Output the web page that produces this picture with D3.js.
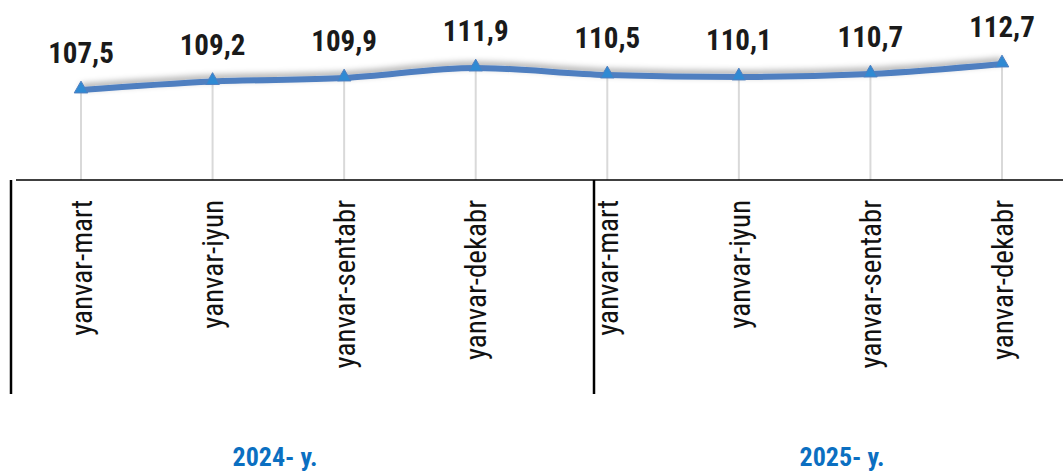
<!DOCTYPE html>
<html>
<head>
<meta charset="utf-8">
<script src="https://cdn.jsdelivr.net/npm/d3@7"></script>
<style>
body{margin:0;background:#fff;}
text{font-family:"Liberation Sans Narrow","Roboto Condensed","Roboto",sans-serif;}
</style>
</head>
<body>
<div id="chart"></div>
<script>
// data
const periods = ["yanvar-mart","yanvar-iyun","yanvar-sentabr","yanvar-dekabr","yanvar-mart","yanvar-iyun","yanvar-sentabr","yanvar-dekabr"];
const values = [107.5,109.2,109.9,111.9,110.5,110.1,110.7,112.7];
const years = ["2024- y.","2025- y."];

const w = 1063, h = 472;
const svg = d3.select("#chart").append("svg").attr("width",w).attr("height",h);

const defs = svg.append("defs");
const f = defs.append("filter").attr("id","sh").attr("x","-5%").attr("y","-100%").attr("width","110%").attr("height","400%");
f.append("feDropShadow").attr("dx",0).attr("dy",-3).attr("stdDeviation",3).attr("flood-color","#000").attr("flood-opacity",0.35);

const x = d3.scalePoint().domain(d3.range(values.length)).range([81,1002]);
const y = d3.scaleLinear().domain([107.5,112.7]).range([90,64]);
const axisY = 180;

// grid lines
svg.selectAll(".grid").data(values).enter().append("line")
  .attr("x1",(d,i)=>x(i)).attr("x2",(d,i)=>x(i))
  .attr("y1",d=>y(d)).attr("y2",axisY)
  .attr("stroke","#d9d9d9").attr("stroke-width",2);

// axis
const ax = svg.append("g").attr("transform","translate(0,"+axisY+")")
  .call(d3.axisBottom(x).tickSize(0).tickFormat(i=>periods[i]));
ax.select(".domain").remove();
ax.selectAll("text")
  .attr("transform","rotate(-90)")
  .attr("x",-20).attr("y",0).attr("dy","0.35em")
  .style("text-anchor","end")
  .style("font-size","29px").attr("fill","#111");
svg.append("line").attr("x1",16).attr("x2",w).attr("y1",axisY).attr("y2",axisY)
  .attr("stroke","#000").attr("stroke-width",1.5);

// group separators
[11,594].forEach(px=>{
  svg.append("line").attr("x1",px).attr("x2",px).attr("y1",axisY).attr("y2",394)
    .attr("stroke","#000").attr("stroke-width",2.5);
});

// line
const line = d3.line().x((d,i)=>x(i)).y(d=>y(d)).curve(d3.curveMonotoneX);
svg.append("path").datum(values).attr("d",line)
  .attr("fill","none").attr("stroke","#4F7FC0").attr("stroke-width",6)
  .attr("stroke-linejoin","round").attr("filter","url(#sh)");

// markers
svg.selectAll(".mk").data(values).enter().append("path")
  .attr("d",d3.symbol().type(d3.symbolTriangle).size(80))
  .attr("transform",(d,i)=>"translate("+x(i)+","+(y(d)-1)+")")
  .attr("fill","#2F8AD3").attr("stroke","#4F7FC0").attr("stroke-width",1);

// labels
svg.selectAll(".lbl").data(values).enter().append("text")
  .attr("x",(d,i)=>x(i)).attr("y",d=>y(d)-27)
  .attr("text-anchor","middle").style("font-size","29px").style("font-weight","bold")
  .attr("fill","#1a1a1a")
  .text(d=>d.toFixed(1).replace(".",","));

// year labels
svg.selectAll(".yr").data(years).enter().append("text")
  .attr("x",(d,i)=>[275,842][i]).attr("y",466)
  .attr("text-anchor","middle").style("font-size","26px").style("font-weight","bold")
  .attr("fill","#0B6FC1").text(d=>d);
</script>
</body>
</html>
